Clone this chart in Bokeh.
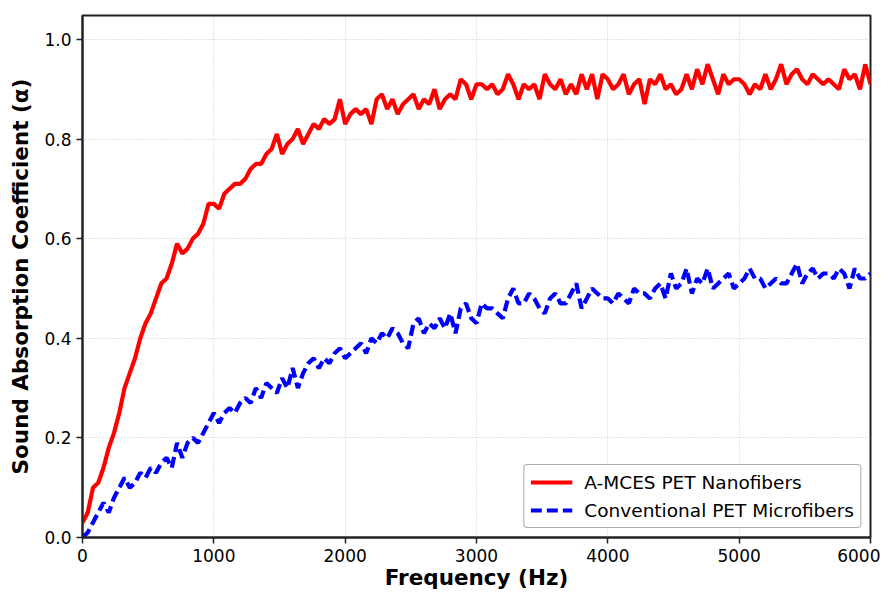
from bokeh.plotting import figure
from bokeh.models import Range1d, FixedTicker, Legend, LegendItem
from bokeh.embed import file_html
from bokeh.resources import INLINE

# Frequency step of the sampled curves (Hz)
step_hz = 40

nano_alpha = [
    0.03, 0.05, 0.10, 0.11, 0.14, 0.18, 0.21, 0.25, 0.30, 0.33,
    0.36, 0.40, 0.43, 0.45, 0.48, 0.51, 0.52, 0.55, 0.59, 0.57,
    0.58, 0.60, 0.61, 0.63, 0.67, 0.67, 0.66, 0.69, 0.70, 0.71,
    0.71, 0.72, 0.74, 0.75, 0.75, 0.77, 0.78, 0.81, 0.77, 0.79,
    0.80, 0.82, 0.79, 0.81, 0.83, 0.82, 0.84, 0.83, 0.84, 0.88,
    0.83, 0.85, 0.86, 0.85, 0.86, 0.83, 0.88, 0.89, 0.86, 0.88,
    0.85, 0.87, 0.88, 0.89, 0.86, 0.88, 0.87, 0.90, 0.86, 0.88,
    0.89, 0.88, 0.92, 0.91, 0.88, 0.91, 0.91, 0.90, 0.91, 0.89,
    0.90, 0.93, 0.91, 0.88, 0.91, 0.90, 0.91, 0.88, 0.93, 0.91,
    0.90, 0.92, 0.89, 0.91, 0.89, 0.93, 0.90, 0.93, 0.88, 0.93,
    0.92, 0.90, 0.91, 0.93, 0.89, 0.91, 0.92, 0.87, 0.92, 0.91,
    0.93, 0.90, 0.91, 0.89, 0.90, 0.93, 0.90, 0.94, 0.91, 0.95,
    0.92, 0.89, 0.93, 0.91, 0.92, 0.92, 0.91, 0.89, 0.91, 0.90,
    0.93, 0.90, 0.92, 0.95, 0.91, 0.93, 0.94, 0.92, 0.91, 0.93,
    0.92, 0.91, 0.92, 0.91, 0.90, 0.94, 0.92, 0.93, 0.90, 0.95,
    0.91,
]

micro_alpha = [
    0.00, 0.01, 0.03, 0.05, 0.07, 0.05, 0.08, 0.10, 0.12, 0.10,
    0.11, 0.13, 0.12, 0.14, 0.13, 0.15, 0.16, 0.14, 0.19, 0.16,
    0.19, 0.20, 0.19, 0.21, 0.23, 0.25, 0.23, 0.25, 0.26, 0.25,
    0.27, 0.28, 0.27, 0.30, 0.28, 0.31, 0.30, 0.29, 0.32, 0.30,
    0.34, 0.30, 0.33, 0.35, 0.36, 0.34, 0.36, 0.35, 0.37, 0.38,
    0.36, 0.37, 0.38, 0.39, 0.37, 0.40, 0.39, 0.41, 0.40, 0.42,
    0.41, 0.39, 0.38, 0.43, 0.44, 0.41, 0.43, 0.42, 0.44, 0.42,
    0.45, 0.41, 0.46, 0.47, 0.44, 0.43, 0.47, 0.46, 0.46, 0.45,
    0.44, 0.48, 0.50, 0.47, 0.47, 0.49, 0.48, 0.46, 0.45, 0.48,
    0.49, 0.47, 0.47, 0.49, 0.51, 0.46, 0.48, 0.50, 0.49, 0.48,
    0.48, 0.47, 0.49, 0.48, 0.47, 0.50, 0.49, 0.49, 0.48, 0.50,
    0.51, 0.48, 0.53, 0.50, 0.51, 0.54, 0.49, 0.52, 0.51, 0.54,
    0.50, 0.51, 0.52, 0.53, 0.50, 0.51, 0.52, 0.54, 0.52, 0.52,
    0.50, 0.51, 0.52, 0.51, 0.51, 0.53, 0.55, 0.51, 0.53, 0.54,
    0.52, 0.53, 0.53, 0.52, 0.54, 0.53, 0.50, 0.54, 0.52, 0.52,
    0.53,
]

nano_freq = [step_hz * i for i in range(len(nano_alpha))]
micro_freq = [step_hz * i for i in range(len(micro_alpha))]

x_ticks = [0, 1000, 2000, 3000, 4000, 5000, 6000]
y_ticks = [0.0, 0.2, 0.4, 0.6, 0.8, 1.0]

FONT = "DejaVu Sans"

p = figure(
    width=887, height=586,
    output_backend="svg", toolbar_location=None,
    x_range=Range1d(0, 6000), y_range=Range1d(0, 1.048),
)
p.frame_width = 788
p.frame_height = 522
p.min_border_left = 82
p.min_border_top = 15
p.min_border_right = 10
p.min_border_bottom = 10
p.background_fill_color = "white"
p.border_fill_color = "white"
p.outline_line_color = "#222222"
p.outline_line_width = 2

r1 = p.line(nano_freq, nano_alpha, line_color="#ff0000", line_width=4.2)
r2 = p.line(micro_freq, micro_alpha, line_color="#0000ff", line_width=4.2,
            line_dash="11 5")

for ax in (p.xaxis[0], p.yaxis[0]):
    ax.axis_line_color = "#222222"
    ax.axis_line_width = 2
    ax.major_tick_line_color = "#222222"
    ax.major_tick_line_width = 1.5
    ax.major_tick_out = 6
    ax.major_tick_in = 0
    ax.minor_tick_line_color = None
    ax.major_label_text_font = FONT
    ax.major_label_text_font_size = "17px"
    ax.major_label_text_color = "black"
    ax.axis_label_text_font = FONT
    ax.axis_label_text_font_style = "bold"
    ax.axis_label_text_font_size = "21.5px"
    ax.axis_label_text_color = "black"

p.xaxis[0].ticker = FixedTicker(ticks=x_ticks)
p.yaxis[0].ticker = FixedTicker(ticks=y_ticks)
p.yaxis[0].major_label_overrides = {v: f"{v:.1f}" for v in y_ticks}
p.xaxis[0].axis_label = "Frequency (Hz)"
p.yaxis[0].axis_label = "Sound Absorption Coefficient (α)"
p.xaxis[0].axis_label_standoff = 0
p.yaxis[0].axis_label_standoff = 8
p.xaxis[0].major_label_standoff = 5

for g in (p.xgrid[0], p.ygrid[0]):
    g.grid_line_color = "#c8c8c8"
    g.grid_line_dash = "1 2"
    g.grid_line_width = 1

legend = Legend(items=[
    LegendItem(label="A-MCES PET Nanofibers", renderers=[r1]),
    LegendItem(label="Conventional PET Microfibers", renderers=[r2]),
], location="bottom_right")
legend.label_text_font = FONT
legend.label_text_font_size = "18.5px"
legend.label_text_color = "black"
legend.border_line_color = "#555555"
legend.border_line_width = 1.5
legend.border_radius = 4
legend.background_fill_alpha = 1.0
legend.glyph_width = 42
legend.glyph_height = 22
legend.label_standoff = 12
legend.spacing = 6
legend.padding = 6
legend.margin = 9
p.add_layout(legend)

open("out.html", "w").write(file_html(p, INLINE))
